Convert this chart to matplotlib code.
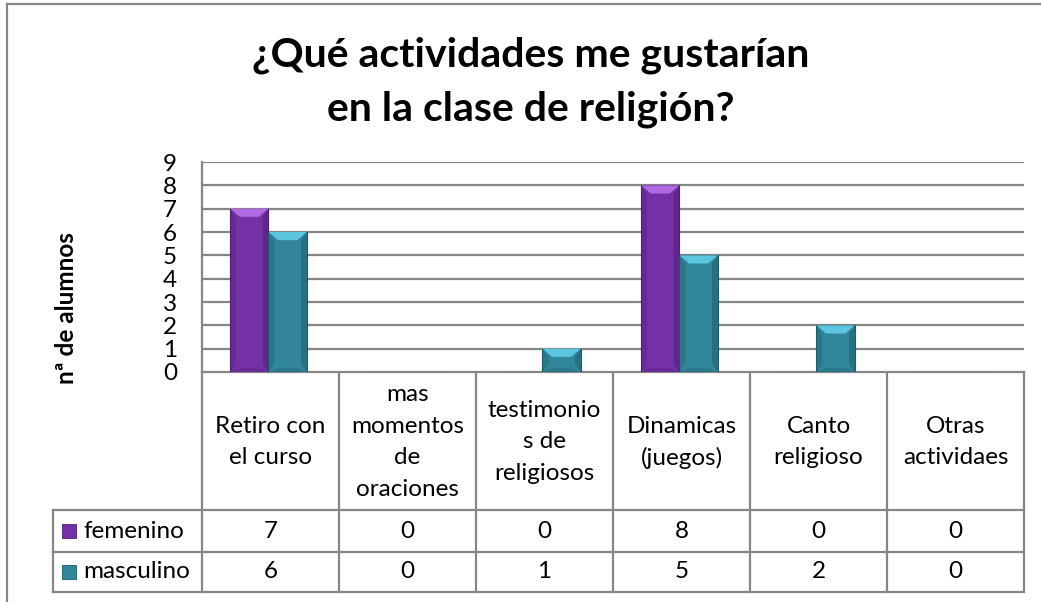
import matplotlib
matplotlib.use("Agg")
import matplotlib.pyplot as plt
from matplotlib.patches import Polygon, Rectangle
import numpy as np

categories = ["Retiro con\nel curso", "mas\nmomentos\nde\noraciones", "testimonio\ns de\nreligiosos",
              "Dinamicas\n(juegos)", "Canto\nreligioso", "Otras\nactividaes"]
femenino = [7, 0, 0, 8, 0, 0]
masculino = [6, 0, 1, 5, 2, 0]
series_names = ["femenino", "masculino"]
yticks = list(range(0, 10))
title = "¿Qué actividades me gustarían\nen la clase de religión?"
ylabel = "nª de alumnos"

colors = ["#7431A6", "#31869B"]
light = ["#B069E0", "#5CC6E0"]
dark = ["#4E1F72", "#1F5A68"]

W, H = 1041, 602
fig = plt.figure(figsize=(W / 100, H / 100), dpi=100)
FONT = "Lato"
plt.rcParams['font.family'] = [FONT, 'DejaVu Sans']
FS = 17.5

# pixel geometry
px_left, px_right, px_top, px_bottom = 202, 1024, 162, 372
ax = fig.add_axes([px_left / W, 1 - px_bottom / H, (px_right - px_left) / W, (px_bottom - px_top) / H])
n = len(categories)
ax.set_xlim(-0.5, n - 0.5)
ax.set_ylim(0, 9)
ax.set_yticks(yticks)
ax.set_yticklabels([str(t) for t in yticks], fontsize=FS)
ax.tick_params(axis='y', length=0, pad=18)
ax.set_xticks([])
for y in yticks:
    ax.axhline(y, color="#868686", lw=1.6, zorder=1)
for s in ["top", "right", "bottom"]:
    ax.spines[s].set_visible(False)
ax.spines["left"].set_color("#868686")
ax.spines["left"].set_linewidth(1.6)

bw = 0.28
offsets = [-0.155, 0.125]
x = np.arange(n)
data = [femenino, masculino]
for si, vals in enumerate(data):
    bars = ax.bar(x + offsets[si], vals, width=bw, color=colors[si], edgecolor=dark[si], lw=0.8, zorder=3)
    for b in bars:
        h = b.get_height()
        if h <= 0:
            continue
        x0, w = b.get_x(), b.get_width()
        bev = 0.07
        bevy = 0.35
        top = Polygon([[x0, h], [x0 + w, h], [x0 + w - bev, h - bevy], [x0 + bev, h - bevy]],
                      closed=True, facecolor=light[si], edgecolor='none', zorder=4)
        ax.add_patch(top)
        left = Polygon([[x0, h], [x0 + bev * 0.6, h - bevy], [x0 + bev * 0.6, bevy], [x0, 0]],
                       closed=True, facecolor=dark[si], edgecolor='none', alpha=0.35, zorder=4)
        right = Polygon([[x0 + w, h], [x0 + w - bev * 0.6, h - bevy], [x0 + w - bev * 0.6, bevy], [x0 + w, 0]],
                        closed=True, facecolor=dark[si], edgecolor='none', alpha=0.5, zorder=4)
        bot = Polygon([[x0, 0], [x0 + w, 0], [x0 + w - bev, bevy * 0.5], [x0 + bev, bevy * 0.5]],
                      closed=True, facecolor=dark[si], edgecolor='none', alpha=0.3, zorder=4)
        for p in (left, right, bot):
            ax.add_patch(p)

# overlay axes in pixel coordinates for frame and table
ov = fig.add_axes([0, 0, 1, 1], zorder=-1)
ov.set_xlim(0, W)
ov.set_ylim(H, 0)
ov.axis("off")
gc = "#868686"
# outer frame
ov.plot([7, 7], [4, H], color=gc, lw=1.6)
ov.plot([7, W], [4, 4], color=gc, lw=1.6)

# table
col_w = (px_right - px_left) / n
cols = [px_left + i * col_w for i in range(n + 1)]
row_hdr_bottom, row1_bottom, row2_bottom = 510, 552, 592
leg_left = 53
ov.plot([px_left, px_left], [px_bottom, row2_bottom], color=gc, lw=1.6)
for cx in cols[1:]:
    ov.plot([cx, cx], [px_bottom, row2_bottom], color=gc, lw=1.6)
ov.plot([px_left, px_right], [px_bottom, px_bottom], color=gc, lw=1.6)
for yy in (row_hdr_bottom, row1_bottom, row2_bottom):
    ov.plot([leg_left, px_right], [yy, yy], color=gc, lw=1.6)
ov.plot([leg_left, leg_left], [row_hdr_bottom, row2_bottom], color=gc, lw=1.6)

pitch = 31.5
hdr_center = (px_bottom + row_hdr_bottom) / 2 + 1
for i, c in enumerate(categories):
    lines = c.split("\n")
    k = len(lines)
    for j, ln in enumerate(lines):
        ov.text((cols[i] + cols[i + 1]) / 2, hdr_center + (j - (k - 1) / 2) * pitch, ln,
                ha="center", va="center", fontsize=FS)
rows_y = [(row_hdr_bottom + row1_bottom) / 2, (row1_bottom + row2_bottom) / 2]
for si, vals in enumerate(data):
    ov.add_patch(Rectangle((62, rows_y[si] - 7), 14, 14, facecolor=colors[si], edgecolor=dark[si], lw=0.6))
    ov.text(83, rows_y[si], series_names[si], ha="left", va="center", fontsize=FS)
    for i, v in enumerate(vals):
        ov.text((cols[i] + cols[i + 1]) / 2, rows_y[si], str(v), ha="center", va="center", fontsize=FS)

title_baselines = [67, 120]
for ln, yb in zip(title.split("\n"), title_baselines):
    fig.text(531 / W, 1 - yb / H, ln, ha="center", va="baseline", fontsize=29.5, fontweight="bold")
fig.text(66 / W, 1 - 308 / H, ylabel, ha="center", va="center", rotation=90, fontsize=17.5,
         fontweight="bold")

fig.savefig("out.png", dpi=100)
